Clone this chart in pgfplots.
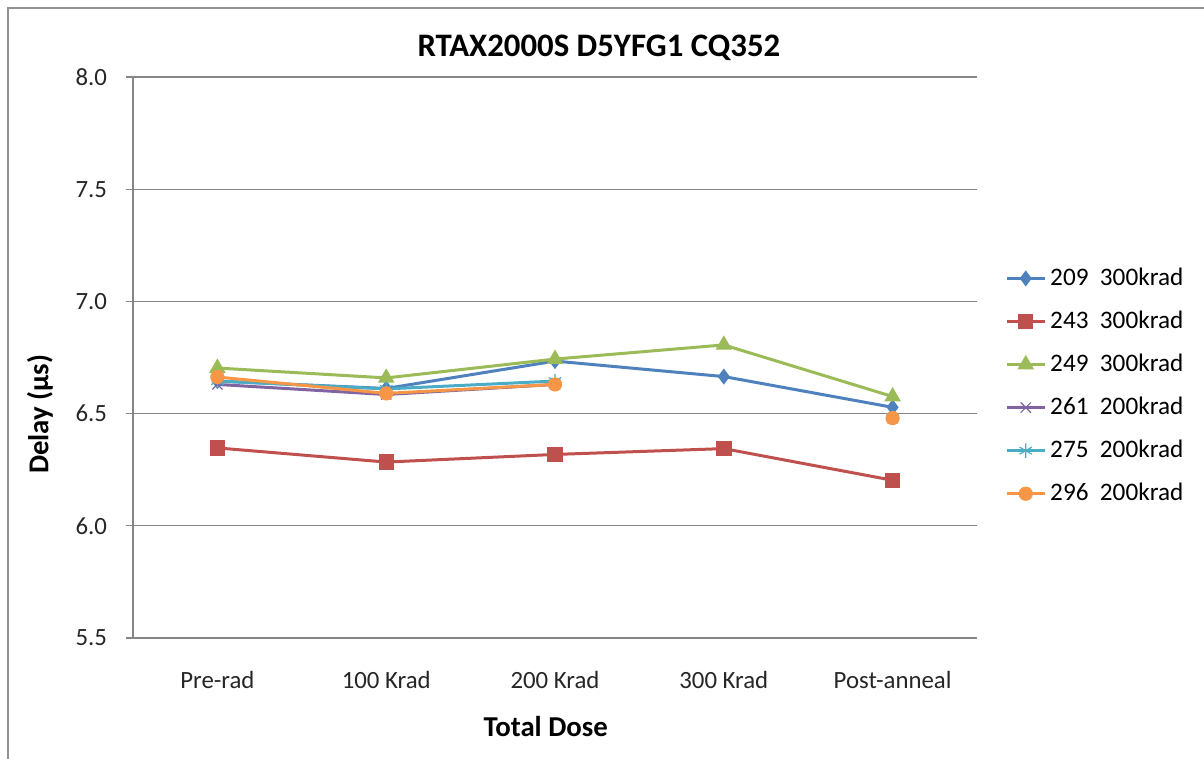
\documentclass[border=0pt]{standalone}
\usepackage{pgfplots}
\pgfplotsset{compat=1.18}
\usepackage{fontspec}
\setmainfont{Carlito}
\definecolor{c1}{HTML}{4F81BD}
\definecolor{c2}{HTML}{C0504D}
\definecolor{c3}{HTML}{9BBB59}
\definecolor{c4}{HTML}{8064A2}
\definecolor{c5}{HTML}{4BACC6}
\definecolor{c6}{HTML}{F79646}
\definecolor{axgray}{HTML}{868686}
\begin{document}
\begin{tikzpicture}
\useasboundingbox (0bp,0bp) rectangle (602bp,379.5bp);
\draw[color=axgray!90, line width=0.9bp] (4bp,0bp) -- (4bp,375.3bp) -- (602bp,375.3bp);
\begin{axis}[
  at={(66.5bp,60.5bp)}, anchor=south west,
  scale only axis, width=422bp, height=280.5bp,
  xmin=-0.5, xmax=4.5, ymin=5.5, ymax=8.0,
  enlargelimits=false,
  axis lines*=left,
  axis line style={axgray, line width=0.6bp},
  ymajorgrids, grid style={axgray, line width=0.6bp},
  tick align=outside,
  major tick length=3.5bp,
  tick style={axgray, line width=0.6bp},
  ytick={5.5,6.0,...,8.0},
  /pgf/number format/.cd, fixed, fixed zerofill, precision=1, assume math mode=true,
  /pgfplots/.cd,
  yticklabel style={font=\fontsize{12.4bp}{14bp}\selectfont, text=black!85, xshift=-6bp},
  xtick={0,1,2,3,4},
  xticklabels={Pre-rad,100 Krad,200 Krad,300 Krad,Post-anneal},
  xticklabel style={font=\fontsize{12.4bp}{14bp}\selectfont, text=black!85, yshift=-9.5bp},
  x tick style={draw=none},
  extra x ticks={-0.5,0.5,1.5,2.5,3.5,4.5},
  extra x tick labels={},
  extra x tick style={tick style={axgray, line width=0.6bp, draw=axgray}, major tick length=3.5bp},
  title={RTAX2000S D5YFG1 CQ352},
  title style={font=\bfseries\fontsize{16.4bp}{20bp}\selectfont, at={(axis description cs:0.552,1)}, anchor=base, yshift=4.5bp},
  xlabel={Total Dose},
  xlabel style={font=\bfseries\fontsize{14.4bp}{17bp}\selectfont, at={(axis description cs:0.489,-0.1586)}, anchor=center},
  ylabel={Delay (µs)},
  ylabel style={font=\bfseries\fontsize{14.4bp}{17bp}\selectfont, at={(axis description cs:-0.1102,0.399)}, anchor=center},
  unbounded coords=jump,
  every axis plot/.append style={line width=1.5bp},
  legend style={at={(axis description cs:1.033,0.667)}, anchor=north west, draw=none, fill=none, inner sep=0pt,
    font=\fontsize{12.6bp}{15bp}\selectfont, row sep=7.3bp, cells={anchor=west}},
  legend image code/.code={\draw[mark repeat=2,mark phase=2] plot coordinates {(0bp,0bp)(9.5bp,0bp)(19bp,0bp)};},
]
\addplot[c1, mark=diamond*, mark size=3.6bp, mark options={line width=0.5bp}] coordinates {(0,6.645) (1,6.612) (2,6.734) (3,6.665) (4,6.528)};
\addlegendentry{209\ \ 300krad}
\addplot[c2, mark=square*, mark size=3.6bp, mark options={line width=0.5bp}] coordinates {(0,6.347) (1,6.284) (2,6.318) (3,6.344) (4,6.203)};
\addlegendentry{243\ \ 300krad}
\addplot[c3, mark=triangle*, mark size=4.3bp, mark options={line width=0.5bp}] coordinates {(0,6.703) (1,6.659) (2,6.743) (3,6.806) (4,6.576)};
\addlegendentry{249\ \ 300krad}
\addplot[c4, mark=x, mark size=3.6bp, mark options={line width=0.6bp}] coordinates {(0,6.630) (1,6.585) (2,6.630) (3,nan) (4,6.480)};
\addlegendentry{261\ \ 200krad}
\addplot[c5, mark=asterisk, mark size=3.6bp, mark options={line width=0.6bp}] coordinates {(0,6.645) (1,6.610) (2,6.645) (3,nan) (4,6.485)};
\addlegendentry{275\ \ 200krad}
\addplot[c6, mark=*, mark size=3.3bp, mark options={line width=0.5bp}] coordinates {(0,6.663) (1,6.590) (2,6.630) (3,nan) (4,6.480)};
\addlegendentry{296\ \ 200krad}
\end{axis}
\end{tikzpicture}
\end{document}
